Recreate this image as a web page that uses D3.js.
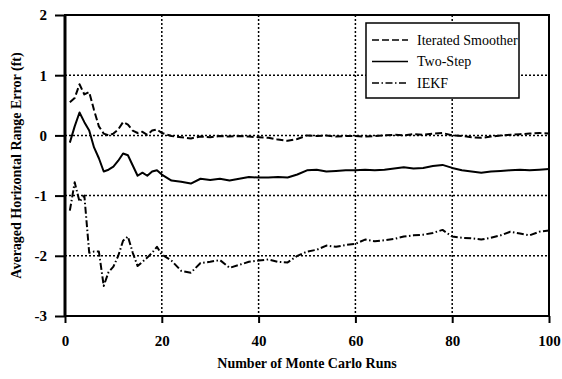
<!DOCTYPE html>
<html>
<head>
<meta charset="utf-8">
<script src="https://cdn.jsdelivr.net/npm/d3@7"></script>
<style>
  body { margin: 0; background: #fff; }
  svg text { font-family: "Liberation Serif", "Times New Roman", serif; fill: #000; }
  .tick-label { font-size: 15px; font-weight: bold; }
  .axis-title { font-size: 14px; font-weight: bold; }
  .legend-text { font-size: 14px; }
</style>
</head>
<body>
<svg id="chart" width="562" height="379"></svg>
<script>
// run numbers
const runs = [1, 2, 3, 4, 5, 6, 7, 8, 9, 10, 11, 12, 13, 14, 15, 16, 17, 18, 19, 20,
  22, 24, 26, 28, 30, 32, 34, 36, 38, 40, 42, 44, 46, 48, 50, 52, 54, 56, 58, 60,
  62, 64, 66, 68, 70, 72, 74, 76, 78, 80, 82, 84, 86, 88, 90, 92, 94, 96, 98, 100];

const smoother = [0.55, 0.62, 0.85, 0.68, 0.72, 0.42, 0.15, 0.03, 0.0, 0.03,
  0.1, 0.22, 0.18, 0.08, 0.04, 0.06, 0.01, 0.08, 0.1, 0.04,
  -0.01, -0.03, -0.05, -0.02, -0.03, -0.01, -0.02, -0.01, -0.02, -0.03,
  -0.04, -0.07, -0.09, -0.06, 0.0, -0.01, 0.0, -0.02, -0.01, -0.01,
  -0.02, -0.01, 0.0, 0.01, 0.0, 0.02, 0.01, 0.03, 0.04, 0.0,
  -0.01, -0.03, -0.04, -0.02, 0.0, 0.01, 0.02, 0.03, 0.04, 0.03];

const twoStep = [-0.12, 0.15, 0.38, 0.22, 0.08, -0.2, -0.38, -0.6, -0.57, -0.52,
  -0.42, -0.3, -0.33, -0.5, -0.67, -0.62, -0.67, -0.6, -0.58, -0.65,
  -0.75, -0.77, -0.8, -0.72, -0.74, -0.72, -0.75, -0.72, -0.69, -0.7,
  -0.7, -0.69, -0.7, -0.65, -0.58, -0.57, -0.6, -0.59, -0.58, -0.58,
  -0.57, -0.58, -0.57, -0.55, -0.53, -0.55, -0.54, -0.51, -0.49, -0.54,
  -0.58, -0.6, -0.62, -0.6, -0.59, -0.58, -0.57, -0.58, -0.57, -0.56];

const iekf = [-1.25, -0.78, -1.1, -1.0, -1.95, -1.93, -1.93, -2.5, -2.27, -2.18,
  -2.0, -1.75, -1.68, -1.95, -2.17, -2.1, -2.03, -1.95, -1.85, -1.98,
  -2.08, -2.25, -2.28, -2.12, -2.1, -2.07, -2.2, -2.15, -2.1, -2.08,
  -2.06, -2.1, -2.11, -2.0, -1.93, -1.9, -1.83, -1.85, -1.82, -1.8,
  -1.73, -1.76, -1.74, -1.72, -1.68, -1.66, -1.65, -1.62, -1.57, -1.68,
  -1.7, -1.71, -1.73, -1.7, -1.66, -1.6, -1.63, -1.66, -1.6, -1.58];

const seriesNames = ["Iterated Smoother", "Two-Step", "IEKF"];
const xTicks = [0, 20, 40, 60, 80, 100];
const yTicks = [2, 1, 0, -1, -2, -3];

const svg = d3.select("#chart");
const margin = {top: 15, right: 13, bottom: 63, left: 65};
const width = 562 - margin.left - margin.right;
const height = 379 - margin.top - margin.bottom;

const x = d3.scaleLinear().domain([0, 100]).range([margin.left, margin.left + width]);
const y = d3.scaleLinear().domain([-3, 2]).range([margin.top + height, margin.top]);

// dotted grid
svg.append("g").selectAll("line")
  .data(xTicks.slice(1, -1))
  .join("line")
    .attr("x1", d => x(d)).attr("x2", d => x(d))
    .attr("y1", y(2)).attr("y2", y(-3))
    .attr("stroke", "#000").attr("stroke-width", 1.5)
    .attr("stroke-dasharray", "2,2");
svg.append("g").selectAll("line")
  .data(yTicks.slice(1, -1))
  .join("line")
    .attr("x1", x(0)).attr("x2", x(100))
    .attr("y1", d => y(d)).attr("y2", d => y(d))
    .attr("stroke", "#000").attr("stroke-width", 1.5)
    .attr("stroke-dasharray", "2,2");

// axes, plain hyphen minus like the original
const fmt = d => String(d);
const xAxis = d3.axisBottom(x).tickValues(xTicks).tickFormat(fmt).tickSize(7).tickPadding(12);
const yAxis = d3.axisLeft(y).tickValues(yTicks).tickFormat(fmt).tickSize(10).tickPadding(8);

const gx = svg.append("g")
  .attr("transform", "translate(0," + y(-3) + ")")
  .call(xAxis);
const gy = svg.append("g")
  .attr("transform", "translate(" + x(0) + ",0)")
  .call(yAxis);

[gx, gy].forEach(g => {
  g.select(".domain").remove();
  g.selectAll(".tick line").attr("stroke", "#000").attr("stroke-width", 2);
  g.selectAll(".tick text").attr("class", "tick-label").attr("font-family", null).attr("font-size", null);
});
gx.selectAll(".tick text").attr("dy", "0.71em");

// frame
svg.append("rect")
  .attr("x", x(0)).attr("y", y(2))
  .attr("width", x(100) - x(0)).attr("height", y(-3) - y(2))
  .attr("fill", "none").attr("stroke", "#000").attr("stroke-width", 2);
svg.append("line")
  .attr("x1", x(0)).attr("x2", x(0)).attr("y1", y(2)).attr("y2", y(-3))
  .attr("stroke", "#000").attr("stroke-width", 3);

// curves
const line = d3.line()
  .x((d, i) => x(runs[i]))
  .y(d => y(d));

const dashes = ["7,3", null, "7,2.5,1.5,2.5"];
[smoother, twoStep, iekf].forEach((s, i) => {
  svg.append("path")
    .datum(s)
    .attr("d", line)
    .attr("fill", "none")
    .attr("stroke", "#000")
    .attr("stroke-width", 2)
    .attr("stroke-linejoin", "round")
    .attr("stroke-dasharray", dashes[i]);
});

// legend
const legend = svg.append("g").attr("transform", "translate(366,23)");
legend.append("rect")
  .attr("width", 153).attr("height", 75)
  .attr("fill", "#fff").attr("stroke", "#000").attr("stroke-width", 1.5);
seriesNames.forEach((name, i) => {
  const ly = 17 + i * 21.5;
  legend.append("line")
    .attr("x1", 6).attr("x2", 42).attr("y1", ly).attr("y2", ly)
    .attr("stroke", "#000").attr("stroke-width", 1.5)
    .attr("stroke-dasharray", dashes[i]);
  legend.append("text")
    .attr("class", "legend-text")
    .attr("x", 51).attr("y", ly + 4.5)
    .text(name);
});

// axis titles
svg.append("text")
  .attr("class", "axis-title")
  .attr("x", (x(0) + x(100)) / 2)
  .attr("y", 368)
  .attr("text-anchor", "middle")
  .text("Number of Monte Carlo Runs");

svg.append("text")
  .attr("class", "axis-title")
  .attr("transform", "translate(21," + y(-0.5) + ") rotate(-90)")
  .attr("text-anchor", "middle")
  .text("Averaged Horizontal Range Error (ft)");
</script>
</body>
</html>
